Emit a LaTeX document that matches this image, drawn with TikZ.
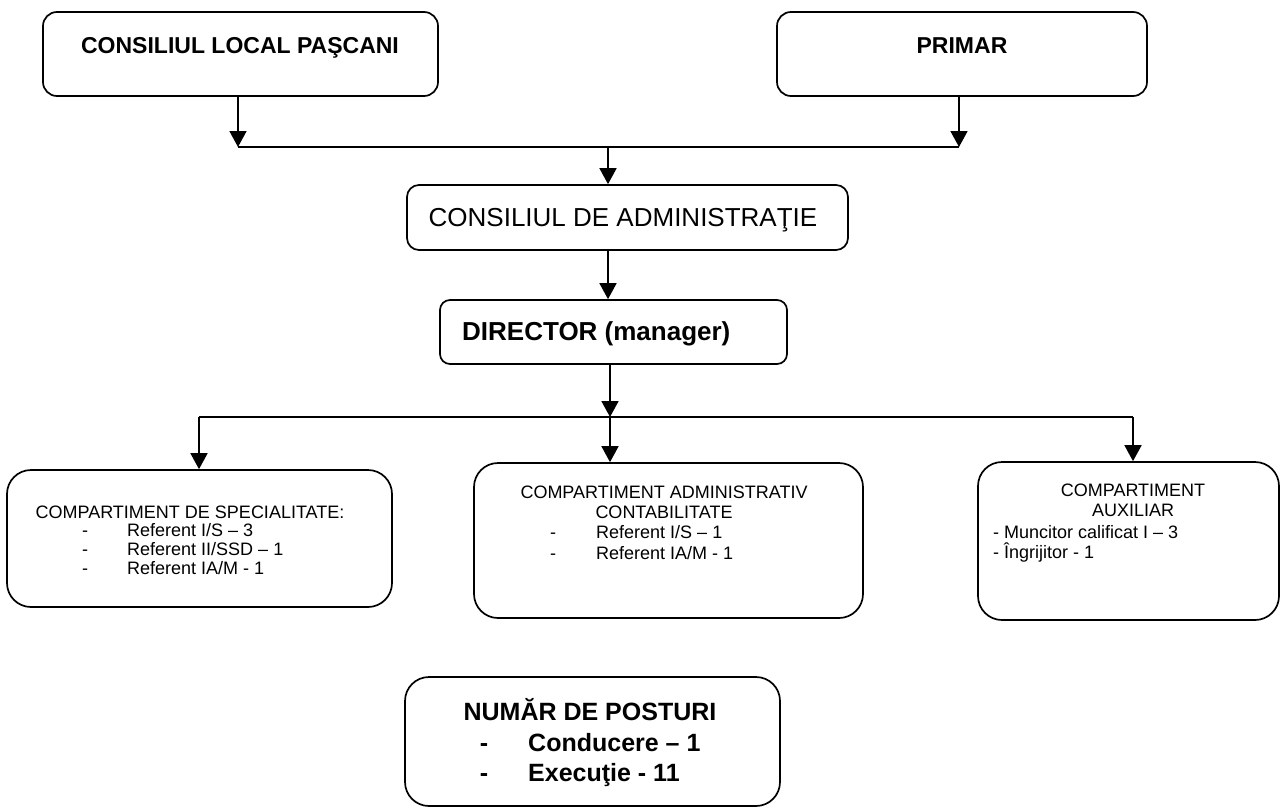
\documentclass[tikz,border=0pt]{standalone}
\usepackage{fontspec}
\setmainfont{Liberation Sans}
\usetikzlibrary{arrows.meta}
\begin{document}
\begin{tikzpicture}[x=1pt,y=-1pt,
  box/.style={draw, line width=1.7pt, rounded corners=#1, inner sep=0pt},
  box/.default=14pt,
  ln/.style={line width=1.7pt},
  arr/.style={line width=1.7pt, -{Triangle[length=16pt,width=17pt]}},
  txt/.style={inner sep=0pt, text height=0.72em, text depth=0pt},
  big/.style={txt, yshift=-4pt, font=\fontsize{23}{27}\selectfont\bfseries},
  mid/.style={txt, yshift=-5pt, font=\fontsize{26}{30}\selectfont},
  midb/.style={txt, yshift=-5pt, font=\fontsize{26}{30}\selectfont\bfseries},
  pb/.style={txt, yshift=-5pt, font=\fontsize{25}{30}\selectfont\bfseries},
  sml/.style={txt, yshift=-3pt, font=\fontsize{18}{20}\selectfont}
]
\useasboundingbox (0,0) rectangle (1281,809);

% boxes
\node[box, minimum width=395pt, minimum height=84pt] (clp) at (240.5,54) {};
\node[box, minimum width=370pt, minimum height=84pt] (primar) at (962,54) {};
\node[box=12pt, minimum width=441pt, minimum height=65pt] (ca) at (627.5,217.5) {};
\node[box=10pt, minimum width=347pt, minimum height=64pt] (dir) at (613.5,332) {};
\node[box=24pt, minimum width=385pt, minimum height=137pt] (spec) at (199.5,538.5) {};
\node[box=24pt, minimum width=389pt, minimum height=155pt] (adm) at (668.5,540.5) {};
\node[box=24pt, minimum width=301pt, minimum height=158pt] (aux) at (1128.5,541) {};
\node[box=24pt, minimum width=375pt, minimum height=129pt] (post) at (592.5,741.5) {};

% texts
\node[big] (clpt) at (240,46) {CONSILIUL LOCAL PAŞCANI};
\node[big] (primart) at (962,46) {PRIMAR};
\node[mid] (cat) at (623,218) {CONSILIUL DE ADMINISTRAŢIE};
\node[midb, anchor=west] (dirt) at (462,332) {DIRECTOR (manager)};

\node[sml] (spect) at (190,512) {COMPARTIMENT DE SPECIALITATE:};
\node[sml] (specd1) at (85,530) {-};
\node[sml] (specd2) at (85,549) {-};
\node[sml] (specd3) at (85,568) {-};
\node[sml, anchor=west] (specl1) at (127,530) {Referent I/S – 3};
\node[sml, anchor=west] (specl2) at (127,549) {Referent II/SSD – 1};
\node[sml, anchor=west] (specl3) at (127,568) {Referent IA/M - 1};

\node[sml] (admt1) at (664,492) {COMPARTIMENT ADMINISTRATIV};
\node[sml] (admt2) at (664,512) {CONTABILITATE};
\node[sml] (admd1) at (553,532) {-};
\node[sml] (admd2) at (553,553) {-};
\node[sml, anchor=west] (adml1) at (596,532) {Referent I/S – 1};
\node[sml, anchor=west] (adml2) at (596,553) {Referent IA/M - 1};

\node[sml] (auxt1) at (1133,490) {COMPARTIMENT};
\node[sml] (auxt2) at (1133,510) {AUXILIAR};
\node[sml, anchor=west] (auxl1) at (993,532) {- Muncitor calificat I – 3};
\node[sml, anchor=west] (auxl2) at (993,552) {- Îngrijitor - 1};

\node[pb] (postt) at (590,712) {NUMĂR DE POSTURI};
\node[pb] (postd1) at (484,743) {-};
\node[pb] (postd2) at (484,773) {-};
\node[pb, anchor=west] (postl1) at (528,743) {Conducere – 1};
\node[pb, anchor=west] (postl2) at (528,773) {Execuţie - 11};

% connectors
\coordinate (b1l) at (238,147);
\coordinate (b1r) at (959,147);
\coordinate (b1) at (608,147);
\draw[ln] (b1l) -- (b1r);
\draw[arr] (clp.south -| b1l) -- (b1l);
\draw[arr] (primar.south -| b1r) -- (b1r);
\draw[arr] (b1) -- (b1 |- ca.north);

\coordinate (b2l) at (199,417);
\coordinate (b2r) at (1133,417);
\coordinate (b2) at (610,417);
\draw[arr] (ca.south -| b1) -- (b1 |- dir.north);
\draw[ln] (b2l) -- (b2r);
\draw[arr] (dir.south -| b2) -- (b2);
\draw[arr] (b2l) -- (b2l |- spec.north);
\draw[arr] (b2) -- (b2 |- adm.north);
\draw[arr] (b2r) -- (b2r |- aux.north);
\end{tikzpicture}
\end{document}
